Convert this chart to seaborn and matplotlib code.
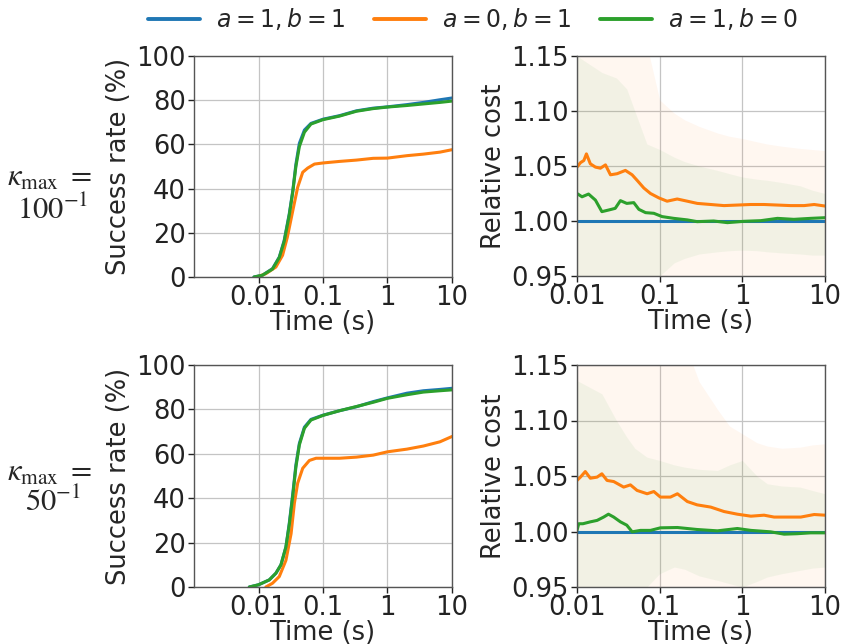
import numpy as np
import pandas as pd
import matplotlib
matplotlib.use("Agg")
import matplotlib.pyplot as plt
import seaborn as sns
from matplotlib.lines import Line2D

# ---------------- data ----------------
configs = [r"$a=1, b=1$", r"$a=0, b=1$", r"$a=1, b=0$"]
colors = ["#1f77b4", "#ff7f0e", "#2ca02c"]
row_labels = [r"$100^{-1}$", r"$50^{-1}$"]
time_ticks = [0.01, 0.1, 1, 10]
time_tick_labels = ["0.01", "0.1", "1", "10"]
sr_ticks = [0, 20, 40, 60, 80, 100]
rc_ticks = [0.95, 1.00, 1.05, 1.10, 1.15]
rc_tick_labels = ["0.95", "1.00", "1.05", "1.10", "1.15"]

# success rate, kappa_max = 100^-1
sr1_bg_t = [0.0085, 0.0115, 0.0165, 0.021, 0.025, 0.030, 0.034, 0.038, 0.043, 0.0515,
            0.065, 0.1, 0.18, 0.33, 0.6, 1.0, 2.0, 3.6, 6.5, 10]
sr1_blue = [0, 0.8, 3.8, 9, 16.5, 28.6, 39, 51, 60.5, 66.5,
            69.5, 71.4, 73, 75.2, 76.4, 77, 78, 79, 80.2, 81]
sr1_green = [0, 0.8, 3.6, 8.8, 16, 28, 38.5, 50, 59, 65.5,
             69.2, 71.2, 72.8, 75, 76.2, 76.9, 77.6, 78.3, 79, 79.6]
sr1_or_t = [0.0095, 0.013, 0.0186, 0.0236, 0.028, 0.034, 0.0405, 0.0485, 0.058, 0.0737,
            0.1, 0.18, 0.33, 0.6, 1.0, 2.0, 3.6, 6.5, 10]
sr1_orange = [0, 1.5, 4.5, 9.8, 18, 30, 40.6, 47.4, 49.3, 51.1,
              51.6, 52.3, 52.9, 53.7, 53.8, 54.9, 55.6, 56.5, 57.6]

# success rate, kappa_max = 50^-1
sr2_bg_t = [0.0072, 0.01, 0.0147, 0.0186, 0.0223, 0.0266, 0.030, 0.034, 0.038, 0.043,
            0.0515, 0.065, 0.1, 0.18, 0.33, 0.6, 1.0, 2.0, 3.6, 6.5, 10]
sr2_blue = [0, 1, 3.2, 6.2, 10, 18, 28.7, 42, 55, 64.7,
            72, 75.5, 77.4, 79.4, 81.2, 83.5, 85.2, 87.3, 88.4, 89, 89.5]
sr2_green = [0, 1, 3.2, 6.2, 10, 18, 28, 41, 54, 64,
             71.5, 75.2, 77.3, 79.4, 81.3, 83.2, 85, 86.6, 87.8, 88.4, 88.8]
sr2_or_t = [0.013, 0.0165, 0.021, 0.0266, 0.032, 0.036, 0.0405, 0.0485, 0.0615, 0.078,
            0.1, 0.18, 0.33, 0.6, 1.0, 2.0, 3.6, 6.5, 10]
sr2_orange = [0, 1.7, 4.7, 12, 24, 37.7, 46.8, 53.5, 57, 58,
              58, 58, 58.5, 59.4, 60.9, 62.1, 63.5, 65.4, 67.8]

# relative cost, kappa_max = 100^-1
rc1_or_t = [0.01, 0.011, 0.0121, 0.013, 0.0145, 0.0167, 0.0192, 0.0221, 0.0254, 0.0306,
            0.0385, 0.0464, 0.0533, 0.0643, 0.0774, 0.0978, 0.123, 0.163, 0.216, 0.285,
            0.414, 0.6, 0.87, 1.26, 1.83, 2.66, 3.85, 5.59, 7.4, 10]
rc1_orange = [1.049, 1.053, 1.055, 1.061, 1.052, 1.049, 1.048, 1.051, 1.042, 1.043,
              1.046, 1.042, 1.037, 1.030, 1.025, 1.021, 1.018, 1.020, 1.018, 1.016,
              1.015, 1.014, 1.0145, 1.015, 1.015, 1.0145, 1.014, 1.014, 1.015, 1.0136]
rc1_gr_t = [0.01, 0.0115, 0.0138, 0.0167, 0.020, 0.0242, 0.029, 0.0335, 0.040, 0.0486,
            0.056, 0.0675, 0.085, 0.107, 0.148, 0.216, 0.284, 0.45, 0.66, 1.04,
            1.67, 2.66, 4.2, 6.7, 10]
rc1_green = [1.025, 1.022, 1.0245, 1.019, 1.0085, 1.010, 1.0115, 1.0185, 1.016, 1.0167,
             1.0106, 1.0076, 1.007, 1.004, 1.0024, 1.001, 0.9994, 1.000, 0.9985, 0.9997,
             1.0003, 1.0024, 1.0015, 1.0024, 1.003]

# relative cost, kappa_max = 50^-1
rc2_or_t = [0.01, 0.011, 0.0126, 0.0145, 0.0175, 0.020, 0.0231, 0.0278, 0.0367, 0.0443,
            0.0533, 0.0705, 0.085, 0.102, 0.135, 0.164, 0.216, 0.284, 0.414, 0.6,
            0.87, 1.27, 1.83, 2.42, 3.5, 5.1, 7.4, 10]
rc2_orange = [1.046, 1.049, 1.054, 1.048, 1.049, 1.052, 1.046, 1.045, 1.040, 1.042,
              1.037, 1.034, 1.036, 1.031, 1.031, 1.034, 1.027, 1.024, 1.022, 1.018,
              1.0156, 1.0138, 1.0147, 1.013, 1.013, 1.013, 1.0153, 1.0147]
rc2_gr_t = [0.01, 0.0105, 0.0118, 0.0145, 0.0175, 0.021, 0.024, 0.0278, 0.0335, 0.040,
            0.0465, 0.0585, 0.0774, 0.102, 0.164, 0.284, 0.5, 0.87, 1.27, 2.2,
            3.2, 4.6, 6.7, 10]
rc2_green = [1.001, 1.007, 1.007, 1.0087, 1.010, 1.013, 1.0156, 1.013, 1.0087, 1.0057,
             0.9997, 1.001, 1.001, 1.0033, 1.0036, 1.0018, 1.0006, 1.0027, 1.001, 0.9997,
             0.9976, 0.998, 0.9988, 0.9988]
rc_blue_t = [0.01, 10]
rc_blue = [1.0, 1.0]

# spread bands of relative cost
band_t = [0.01, 0.02, 0.03, 0.04, 0.05, 0.07, 0.1, 0.15, 0.2, 0.3,
          0.5, 0.7, 1, 1.5, 2, 3, 5, 7, 10]
rc1_or_hi = [1.17, 1.17, 1.17, 1.17, 1.17, 1.16, 1.11, 1.098, 1.092, 1.086,
             1.08, 1.077, 1.075, 1.072, 1.07, 1.068, 1.066, 1.065, 1.064]
rc1_or_lo = [0.93] * 19
rc1_gr_hi = [1.15, 1.135, 1.13, 1.12, 1.10, 1.07, 1.065, 1.058, 1.054, 1.05,
             1.046, 1.043, 1.04, 1.038, 1.037, 1.035, 1.032, 1.028, 1.025]
rc1_gr_lo = [0.945, 0.945, 0.945, 0.945, 0.945, 0.945, 0.95, 0.962, 0.966, 0.97,
             0.972, 0.973, 0.9735, 0.973, 0.972, 0.971, 0.970, 0.969, 0.969]
rc2_or_hi = [1.17, 1.17, 1.17, 1.17, 1.17, 1.17, 1.17, 1.17, 1.17, 1.135,
             1.11, 1.095, 1.088, 1.08, 1.077, 1.075, 1.076, 1.078, 1.079]
rc2_or_lo = [0.93] * 19
rc2_gr_hi = [1.136, 1.124, 1.10, 1.085, 1.075, 1.067, 1.064, 1.06, 1.058, 1.056,
             1.055, 1.06, 1.064, 1.05, 1.043, 1.041, 1.04, 1.037, 1.034]
rc2_gr_lo = [0.945, 0.945, 0.945, 0.945, 0.945, 0.95, 0.962, 0.968, 0.966, 0.96,
             0.956, 0.953, 0.95, 0.955, 0.959, 0.962, 0.965, 0.967, 0.968]

# ---------------- plotting ----------------
sns.set_style("ticks")
plt.rcParams["font.family"] = ["DejaVu Sans"]

FS = 18.5
LEG_FS = 17
fig = plt.figure(figsize=(8.41, 6.44), dpi=100)
W, H = 841.0, 644.0


def add_axes(x0, y0, x1, y1):
    return fig.add_axes([x0 / W, 1 - y1 / H, (x1 - x0) / W, (y1 - y0) / H])


ax_sr = [add_axes(194, 56, 452, 277), add_axes(194, 365, 452, 587)]
ax_rc = [add_axes(577, 56, 825, 276), add_axes(577, 365, 825, 587)]


def long_df(series):
    frames = []
    for cfg, t, v in series:
        frames.append(pd.DataFrame({"Time": t, "value": v, "config": cfg}))
    return pd.concat(frames, ignore_index=True)


sr_data = [
    [(configs[0], sr1_bg_t, sr1_blue), (configs[1], sr1_or_t, sr1_orange), (configs[2], sr1_bg_t, sr1_green)],
    [(configs[0], sr2_bg_t, sr2_blue), (configs[1], sr2_or_t, sr2_orange), (configs[2], sr2_bg_t, sr2_green)],
]
rc_data = [
    [(configs[0], rc_blue_t, rc_blue), (configs[1], rc1_or_t, rc1_orange), (configs[2], rc1_gr_t, rc1_green)],
    [(configs[0], rc_blue_t, rc_blue), (configs[1], rc2_or_t, rc2_orange), (configs[2], rc2_gr_t, rc2_green)],
]
bands = [
    [(rc1_or_lo, rc1_or_hi), (rc1_gr_lo, rc1_gr_hi)],
    [(rc2_or_lo, rc2_or_hi), (rc2_gr_lo, rc2_gr_hi)],
]


def style_axis(ax):
    ax.set_xscale("log")
    ax.grid(True, which="major", color="#c4c4c4", linewidth=0.9)
    ax.set_axisbelow(True)
    ax.xaxis.set_minor_locator(matplotlib.ticker.NullLocator())
    ax.set_xticks(time_ticks)
    ax.set_xticklabels(time_tick_labels)
    ax.tick_params(labelsize=FS, length=4, width=1, colors="#222222", pad=2)
    for sp in ax.spines.values():
        sp.set_color("#555555")
        sp.set_linewidth(1.0)
        sp.set_visible(True)
    ax.set_xlabel("Time (s)", fontsize=FS, labelpad=-1)


for r in range(2):
    ax = ax_sr[r]
    ax.set_xscale("log")
    df = long_df(sr_data[r])
    sns.lineplot(data=df, x="Time", y="value", hue="config", hue_order=configs,
                 palette=colors, estimator=None, sort=False, linewidth=2.2,
                 legend=False, ax=ax)
    style_axis(ax)
    ax.set_xlim(0.001, 10)
    ax.set_ylim(0, 100)
    ax.set_yticks(sr_ticks)
    ax.set_ylabel("Success rate (%)", fontsize=FS, labelpad=3)

    ax = ax_rc[r]
    ax.set_xscale("log")
    (olo, ohi), (glo, ghi) = bands[r]
    ax.fill_between(band_t, olo, ohi, color=colors[1], alpha=0.06, linewidth=0)
    ax.fill_between(band_t, glo, ghi, color=colors[2], alpha=0.06, linewidth=0)
    df = long_df(rc_data[r])
    sns.lineplot(data=df, x="Time", y="value", hue="config", hue_order=configs,
                 palette=colors, estimator=None, sort=False, linewidth=2.2,
                 legend=False, ax=ax)
    style_axis(ax)
    ax.set_xlim(0.01, 10)
    ax.set_ylim(0.95, 1.15)
    ax.set_yticks(rc_ticks)
    ax.set_yticklabels(rc_tick_labels)
    ax.set_ylabel("Relative cost", fontsize=FS, labelpad=3)

# row labels
row_y = [(177, 210), (472, 502)]
for r in range(2):
    fig.text(49 / W, 1 - row_y[r][0] / H, r"$\kappa_{\max}\ =$", ha="center", va="center",
             fontsize=22, math_fontfamily="stix")
    fig.text(53 / W, 1 - row_y[r][1] / H, row_labels[r], ha="center", va="center",
             fontsize=22, math_fontfamily="stix")

handles = [Line2D([0], [0], color=c, linewidth=2.8) for c in colors]
fig.legend(handles, configs, loc="center", bbox_to_anchor=(473 / W, 1 - 19 / H), ncol=3,
           frameon=False, fontsize=LEG_FS, handlelength=2.2, columnspacing=1.2,
           handletextpad=0.7, borderaxespad=0, borderpad=0)

fig.savefig("out.png", dpi=100)
